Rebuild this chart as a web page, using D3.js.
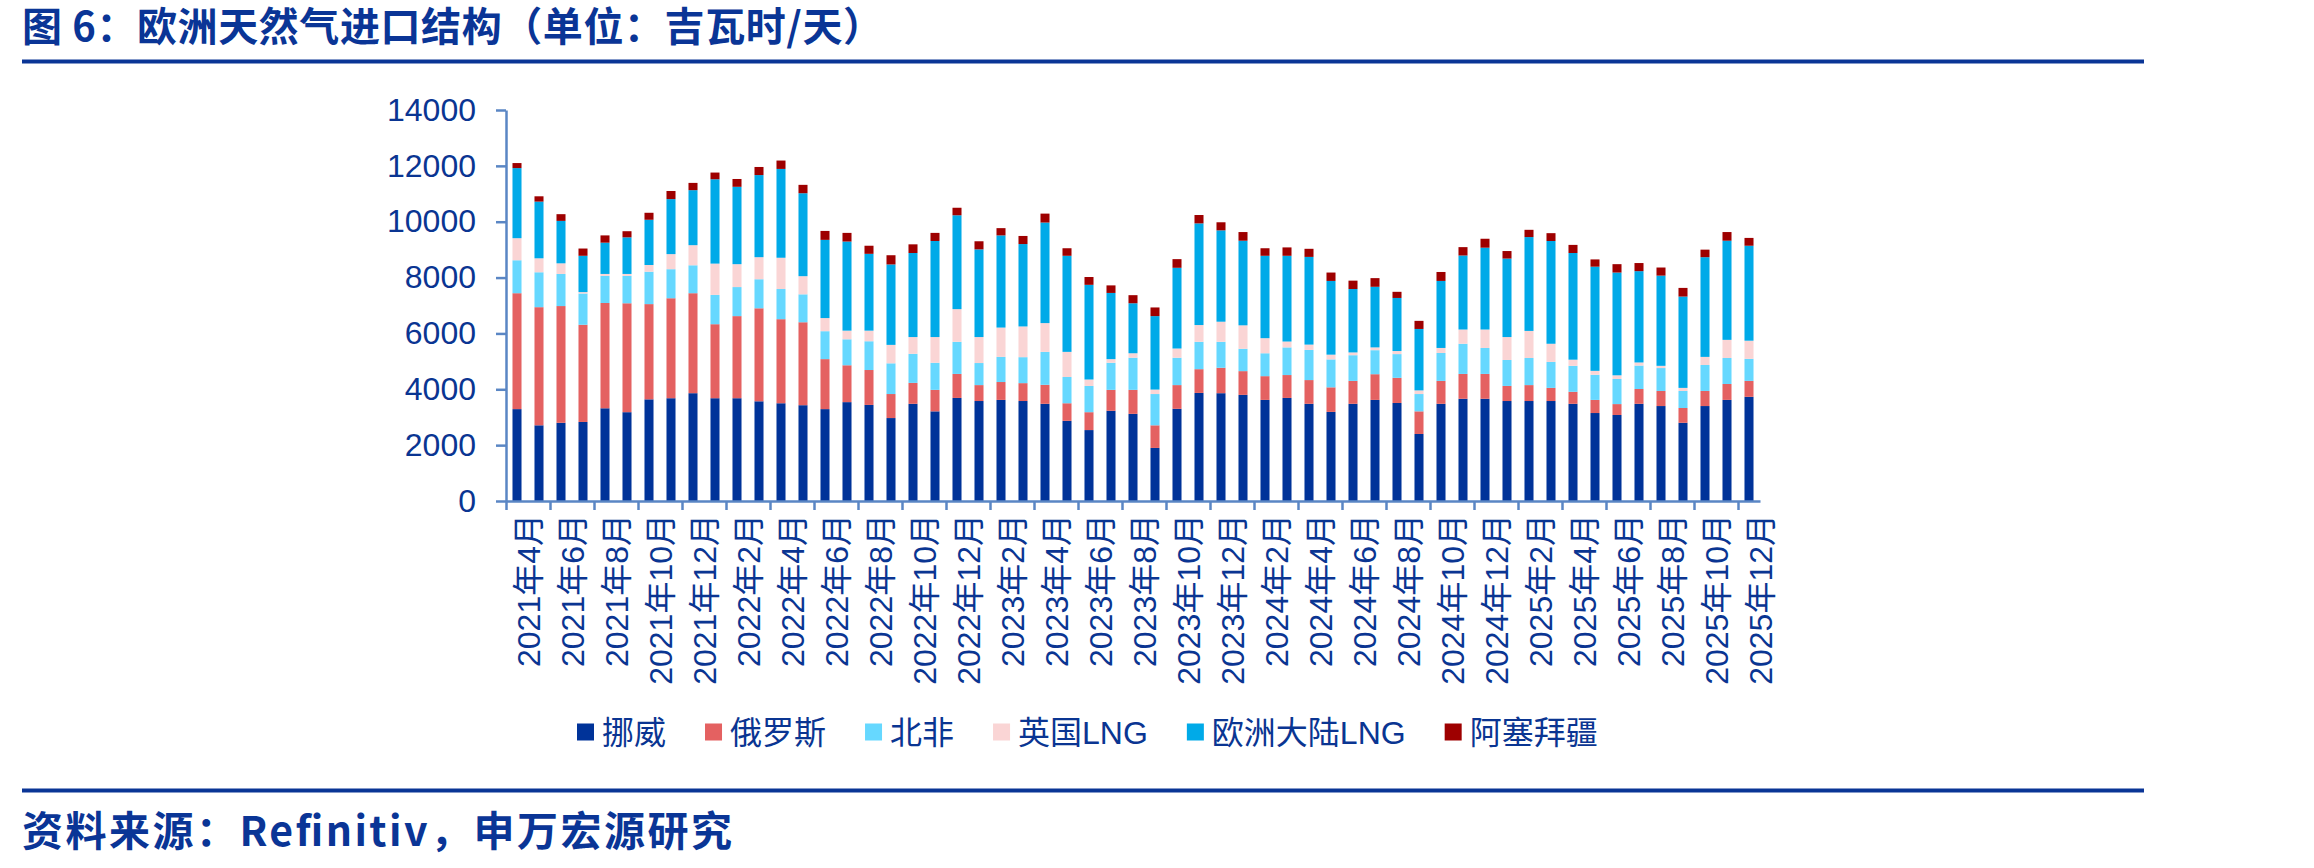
<!DOCTYPE html>
<html>
<head>
<meta charset="utf-8">
<script src="https://cdn.jsdelivr.net/npm/d3@7"></script>
<style>
  body { margin: 0; background: #fff; }
  svg text { font-family: "Liberation Sans", Arial, "Noto Sans CJK SC", sans-serif; }
</style>
</head>
<body>
<div id="chart"></div>
<script>
// categories: monthly, 2021-04 .. 2025-12
var months = [];
for (var yr = 2021; yr <= 2025; yr++) {
  for (var m = (yr === 2021 ? 4 : 1); m <= 12; m++) months.push(yr + "年" + m + "月");
}

var seriesNames = ["挪威", "俄罗斯", "北非", "英国LNG", "欧洲大陆LNG", "阿塞拜疆"];
var seriesColors = ["#003399", "#e46161", "#66d8ff", "#fad5d5", "#00aae8", "#9e0000"];

var norway = [3290,2710,2800,2830,3320,3180,3640,3680,3860,3680,3680,3570,3500,3430,3290,
  3540,3440,2970,3480,3210,3690,3580,3620,3580,3480,2870,2540,3230,3120,1900,3300,3870,3860,3800,3620,3690,
  3480,3190,3480,3620,3510,2400,3480,3660,3660,3580,3580,3580,3480,3150,3080,3480,3400,2800,3400,3620,3730];
var russia = [4150,4230,4180,3480,3770,3900,3410,3580,3580,2650,2940,3330,3010,2970,1790,
  1320,1250,860,750,770,860,570,640,640,680,630,640,750,860,810,850,850,910,850,850,820,
  850,880,820,920,900,810,820,890,890,540,570,470,430,470,390,530,540,530,540,570,570];
var northAfrica = [1180,1250,1150,1120,970,980,1160,1040,1000,1050,1040,1040,1080,1000,1000,
  930,1030,1100,1040,970,1150,790,900,930,1180,940,940,970,1150,1120,980,980,930,800,820,990,
  1080,1000,920,860,850,620,1000,1080,930,930,970,930,930,900,900,840,820,610,930,930,790];
var ukLng = [790,500,380,50,70,70,240,540,720,1120,820,790,1120,650,470,
  310,380,660,600,920,1170,930,1050,1100,1030,900,230,130,160,160,330,600,720,840,540,210,
  190,170,100,100,110,130,180,510,660,820,970,650,220,140,130,110,80,110,290,650,650];
var euLng = [2510,2030,1520,1300,1120,1310,1620,1970,1970,3020,2770,2940,3180,2970,2800,
  3190,2750,2880,3010,3440,3360,3140,3300,2950,3600,3440,3390,2370,1790,2630,2890,3640,3270,3030,2950,3070,
  3140,2640,2270,2170,1900,2200,2400,2650,2930,2810,3360,3680,3820,3730,3680,3270,3230,3270,3570,3550,3400];
var azerbaijan = [180,190,240,260,260,220,250,290,260,240,280,290,300,300,320,
  310,290,330,310,290,270,290,260,290,320,270,280,270,290,310,310,300,290,310,270,300,
  290,300,300,310,220,290,320,300,320,270,260,280,290,260,300,290,290,310,270,310,280];

var yTicks = [0, 2000, 4000, 6000, 8000, 10000, 12000, 14000];

var textColor = "#0a3592";
var axisColor = "#5a86c4";

var W = 2314, H = 868;
var plot = { left: 506, right: 1760, top: 110, bottom: 501 };

var svg = d3.select("#chart").append("svg")
  .attr("width", W)
  .attr("height", H);

// title + rules
svg.append("text")
  .attr("x", 22).attr("y", 41)
  .style("font-family", "'Noto Sans CJK SC', sans-serif")
  .style("font-weight", "bold")
  .style("font-size", "40px")
  .attr("fill", "#0a3596")
  .attr("textLength", 861)
  .attr("lengthAdjust", "spacing")
  .text("图 6：欧洲天然气进口结构（单位：吉瓦时/天）");

svg.append("rect").attr("x", 22).attr("y", 59.5).attr("width", 2122).attr("height", 4).attr("fill", "#0a3596");
svg.append("rect").attr("x", 22).attr("y", 788.5).attr("width", 2122).attr("height", 4).attr("fill", "#0a3596");

svg.append("text")
  .attr("x", 22).attr("y", 846)
  .style("font-family", "'Noto Sans CJK SC', sans-serif")
  .style("font-weight", "bold")
  .style("font-size", "41px")
  .attr("fill", "#0a3596")
  .attr("textLength", 710)
  .attr("lengthAdjust", "spacing")
  .text("资料来源：Refinitiv，申万宏源研究");

// data table
var data = months.map(function (mo, i) {
  return {
    month: mo,
    "挪威": norway[i], "俄罗斯": russia[i], "北非": northAfrica[i],
    "英国LNG": ukLng[i], "欧洲大陆LNG": euLng[i], "阿塞拜疆": azerbaijan[i]
  };
});

var stacked = d3.stack().keys(seriesNames)(data);

var x = d3.scaleBand()
  .domain(months)
  .range([plot.left, plot.right])
  .paddingInner(0.59)
  .paddingOuter(0.295);

var xIdx = d3.scaleLinear()
  .domain([0, months.length])
  .range([plot.left, plot.right]);

var y = d3.scaleLinear()
  .domain([0, 14000])
  .range([plot.bottom, plot.top]);

var color = d3.scaleOrdinal().domain(seriesNames).range(seriesColors);

// bars
svg.append("g").selectAll("g")
  .data(stacked)
  .enter().append("g")
  .attr("fill", function (d) { return color(d.key); })
  .selectAll("rect")
  .data(function (d) { return d; })
  .enter().append("rect")
  .attr("x", function (d) { return x(d.data.month); })
  .attr("y", function (d) { return y(d[1]); })
  .attr("width", x.bandwidth())
  .attr("height", function (d) { return y(d[0]) - y(d[1]); });

// y axis
var yAxis = svg.append("g")
  .attr("transform", "translate(" + plot.left + ",0)")
  .call(d3.axisLeft(y).tickValues(yTicks).tickFormat(d3.format("d"))
    .tickSize(10).tickSizeOuter(0).tickPadding(20));
yAxis.selectAll("text")
  .style("font-size", "32px")
  .attr("fill", textColor);

// x axis: tick marks every 2 months
var xAxis = svg.append("g")
  .attr("transform", "translate(0," + plot.bottom + ")")
  .call(d3.axisBottom(xIdx).tickValues(d3.range(0, months.length, 2)).tickFormat("").tickSize(9).tickSizeOuter(0));

// x labels, centred between the tick marks
var xLab = svg.append("g")
  .attr("transform", "translate(0," + plot.bottom + ")")
  .call(d3.axisBottom(xIdx)
    .tickValues(d3.range(1, months.length + 1, 2))
    .tickFormat(function (v) { return months[v - 1]; })
    .tickSize(0));
xLab.select(".domain").remove();
xLab.selectAll("text")
  .style("font-size", "32px")
  .attr("fill", textColor)
  .attr("text-anchor", "end")
  .attr("dy", "0.35em")
  .attr("x", -13)
  .attr("y", 0)
  .attr("transform", "rotate(-90)");

[yAxis, xAxis].forEach(function (g) {
  g.selectAll(".domain").attr("stroke", axisColor).attr("stroke-width", 2.5);
  g.selectAll(".tick line").attr("stroke", axisColor).attr("stroke-width", 2.5);
});

// legend
var legend = svg.append("g").attr("transform", "translate(577,732)");
var lx = 0;
seriesNames.forEach(function (name) {
  var item = legend.append("g").attr("transform", "translate(" + lx + ",0)");
  item.append("rect")
    .attr("x", 0).attr("y", -8.5)
    .attr("width", 17).attr("height", 17)
    .attr("fill", color(name));
  var t = item.append("text")
    .attr("x", 25).attr("y", 0)
    .attr("dy", "0.36em")
    .style("font-size", "32px")
    .attr("fill", textColor)
    .text(name);
  lx += 25 + t.node().getComputedTextLength() + 39;
});
</script>
</body>
</html>
